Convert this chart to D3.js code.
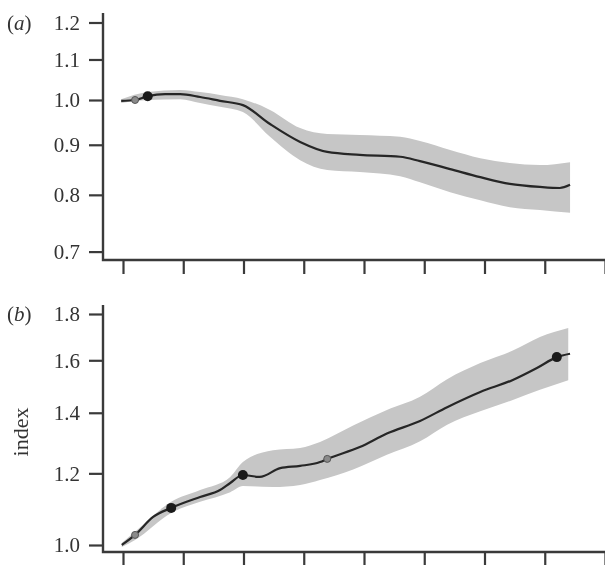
<!DOCTYPE html>
<html>
<head>
<meta charset="utf-8">
<script src="https://cdn.jsdelivr.net/npm/d3@7"></script>
<style>
  body { margin: 0; background: #fff; }
  svg { display: block; filter: blur(0.5px); }
  text { font-family: "Liberation Serif", "DejaVu Serif", serif; fill: #333; }
</style>
</head>
<body>
<script>
// shared x ticks (no labels)
var xTicks = [0, 1, 2, 3, 4, 5, 6, 7, 8];

// panel (a)
var yTicksA = [0.7, 0.8, 0.9, 1.0, 1.1, 1.2];
var lineXA = [-0.03, 0.20, 0.41, 0.70, 0.95, 1.28, 1.61, 1.99, 2.44, 2.94, 3.39, 3.93, 4.60, 4.93, 5.43, 5.93, 6.42, 6.92, 7.25, 7.42];
var lineYA = [0.998, 1.0, 1.009, 1.014, 1.014, 1.007, 0.998, 0.988, 0.945, 0.906, 0.885, 0.879, 0.875, 0.866, 0.850, 0.834, 0.821, 0.815, 0.813, 0.819];
var bandXA = [-0.03, 0.41, 0.95, 1.28, 1.61, 1.99, 2.44, 2.94, 3.39, 3.93, 4.60, 4.93, 5.43, 5.93, 6.42, 6.92, 7.42];
var upperA = [1.002, 1.019, 1.024, 1.019, 1.012, 1.002, 0.977, 0.936, 0.923, 0.921, 0.917, 0.908, 0.889, 0.872, 0.862, 0.858, 0.864];
var lowerA = [0.993, 1.000, 1.002, 0.993, 0.984, 0.972, 0.917, 0.868, 0.848, 0.844, 0.836, 0.824, 0.805, 0.790, 0.777, 0.772, 0.767];
var greyPtsA = [[0.20, 1.0]];
var blackPtsA = [[0.41, 1.009]];

// panel (b)
var yTicksB = [1.0, 1.2, 1.4, 1.6, 1.8];
var lineXB = [-0.02, 0.20, 0.50, 0.80, 1.28, 1.61, 1.78, 1.99, 2.27, 2.61, 2.94, 3.27, 3.39, 3.93, 4.38, 4.93, 5.38, 5.93, 6.47, 6.87, 7.20, 7.42];
var lineYB = [1.0, 1.026, 1.074, 1.099, 1.130, 1.150, 1.171, 1.195, 1.189, 1.216, 1.223, 1.235, 1.245, 1.283, 1.328, 1.371, 1.420, 1.476, 1.522, 1.569, 1.613, 1.627];
var bandXB = [-0.02, 0.20, 0.80, 1.28, 1.78, 1.99, 2.49, 2.94, 3.27, 3.82, 4.38, 4.93, 5.38, 5.93, 6.47, 6.92, 7.39];
var upperB = [1.005, 1.034, 1.116, 1.150, 1.189, 1.235, 1.273, 1.280, 1.300, 1.355, 1.410, 1.458, 1.525, 1.589, 1.640, 1.698, 1.737];
var lowerB = [0.995, 1.013, 1.085, 1.116, 1.144, 1.162, 1.159, 1.165, 1.180, 1.212, 1.258, 1.302, 1.358, 1.405, 1.446, 1.484, 1.521];
var greyPtsB = [[0.20, 1.026], [3.39, 1.245]];
var blackPtsB = [[0.80, 1.099], [1.99, 1.195], [7.20, 1.613]];

var width = 605, height = 565;
var axisX = 103;

var svg = d3.select("body").append("svg")
    .attr("width", width)
    .attr("height", height);

var x = d3.scaleLinear().domain([0, 8]).range([123, 605]);

function panel(o) {
    var y = d3.scaleLog().domain(o.domain).range(o.range);
    var g = svg.append("g");

    var band = o.bandX.map(function (d, i) { return [d, o.lower[i], o.upper[i]]; });
    g.append("path")
        .datum(band)
        .attr("fill", "#c6c6c6")
        .attr("d", d3.area()
            .curve(d3.curveMonotoneX)
            .x(function (d) { return x(d[0]); })
            .y0(function (d) { return y(d[1]); })
            .y1(function (d) { return y(d[2]); }));

    var pts = o.lineX.map(function (d, i) { return [d, o.lineY[i]]; });
    g.append("path")
        .datum(pts)
        .attr("fill", "none")
        .attr("stroke", "#262626")
        .attr("stroke-width", 2.2)
        .attr("d", d3.line()
            .curve(d3.curveMonotoneX)
            .x(function (d) { return x(d[0]); })
            .y(function (d) { return y(d[1]); }));

    g.selectAll(".grey").data(o.grey).enter().append("circle")
        .attr("cx", function (d) { return x(d[0]); })
        .attr("cy", function (d) { return y(d[1]); })
        .attr("r", 3.5)
        .attr("fill", "#8a8a8a")
        .attr("stroke", "#555")
        .attr("stroke-width", 1);

    g.selectAll(".black").data(o.black).enter().append("circle")
        .attr("cx", function (d) { return x(d[0]); })
        .attr("cy", function (d) { return y(d[1]); })
        .attr("r", 5)
        .attr("fill", "#1a1a1a");

    // y axis
    var ya = g.append("g")
        .attr("transform", "translate(" + axisX + ",0)")
        .call(d3.axisLeft(y).tickValues(o.ticks).tickSize(14).tickSizeOuter(0)
            .tickFormat(d3.format(".1f")));
    ya.select(".domain").remove();
    ya.selectAll(".tick line").attr("stroke", "#3a3a3a").attr("stroke-width", 2.2);
    ya.selectAll(".tick text")
        .attr("x", -23)
        .style("font-size", "21px")
        .style("font-family", "Liberation Serif, serif")
        .attr("fill", "#333");

    // x axis
    var xa = g.append("g")
        .attr("transform", "translate(0," + o.base + ")")
        .call(d3.axisBottom(x).tickValues(xTicks).tickSize(14).tickSizeOuter(0)
            .tickFormat(""));
    xa.select(".domain").remove();
    xa.selectAll(".tick line").attr("stroke", "#3a3a3a").attr("stroke-width", 2.2);

    g.append("path")
        .attr("d", "M" + axisX + "," + o.top + "V" + o.base + "H" + width)
        .attr("fill", "none")
        .attr("stroke", "#3a3a3a")
        .attr("stroke-width", 2.4);

    g.append("text")
        .attr("x", 7)
        .attr("y", y(o.ticks[o.ticks.length - 1]) + 7)
        .style("font-size", "21px")
        .html("(<tspan font-style='italic'>" + o.label + "</tspan>)");
    return g;
}

panel({
    domain: [0.7, 1.2], range: [251.6, 22.5], ticks: yTicksA,
    lineX: lineXA, lineY: lineYA, bandX: bandXA, upper: upperA, lower: lowerA,
    grey: greyPtsA, black: blackPtsA, top: 13, base: 260, label: "a"
});

panel({
    domain: [1.0, 1.8], range: [545, 314], ticks: yTicksB,
    lineX: lineXB, lineY: lineYB, bandX: bandXB, upper: upperB, lower: lowerB,
    grey: greyPtsB, black: blackPtsB, top: 305, base: 552, label: "b"
});

svg.append("text")
    .attr("transform", "translate(28,432) rotate(-90)")
    .attr("text-anchor", "middle")
    .style("font-size", "22px")
    .attr("fill", "#333")
    .text("index");
</script>
</body>
</html>
